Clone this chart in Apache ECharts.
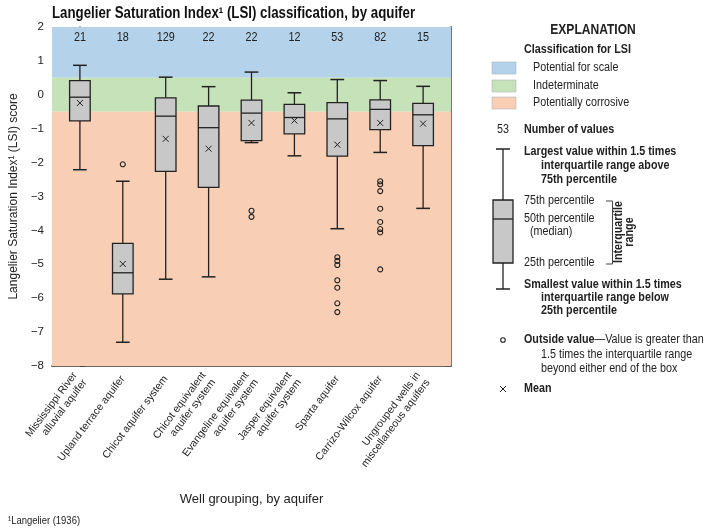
<!DOCTYPE html>
<html><head><meta charset="utf-8">
<script src="https://cdn.jsdelivr.net/npm/echarts@6/dist/echarts.min.js"></script>
<style>html,body{margin:0;padding:0;background:#fff}#c{width:711px;height:529px}</style>
</head><body><div id="c"></div>
<script>
const categories = ['Mississippi River\nalluvial aquifer','Upland terrace aquifer','Chicot aquifer system','Chicot equivalent\naquifer system','Evangeline equivalent\naquifer system','Jasper equivalent\naquifer system','Sparta aquifer','Carrizo-Wilcox aquifer','Ungrouped wells in\nmiscellaneous aquifers'];
const counts = [21,18,129,22,22,12,53,82,15];
const whiskerLow = [-2.21,-7.30,-5.44,-5.37,-1.41,-1.80,-3.95,-1.70,-3.35];
const q1 = [-0.77,-5.87,-2.26,-2.73,-1.35,-1.15,-1.81,-1.03,-1.50];
const median = [-0.07,-5.25,-0.63,-0.97,-0.54,-0.67,-0.71,-0.43,-0.59];
const q3 = [0.42,-4.38,-0.09,-0.33,-0.16,-0.28,-0.23,-0.15,-0.25];
const whiskerHigh = [0.87,-2.55,0.52,0.24,0.67,0.06,0.45,0.42,0.25];
const means = [-0.24,-4.99,-1.30,-1.59,-0.83,-0.76,-1.47,-0.83,-0.85];
const outliers = [[],[-2.05],[],[],[-3.42,-3.60],[],[-4.79,-4.90,-5.02,-5.47,-5.69,-6.15,-6.41],[-2.55,-2.64,-2.84,-3.36,-3.75,-3.96,-4.06,-5.15],[]];

const FONT = "'Liberation Sans',Arial,sans-serif";
const boxData = categories.map((c,i)=>[i, whiskerLow[i], q1[i], median[i], q3[i], whiskerHigh[i], means[i]]);
const countData = counts.map((n,i)=>[i, n]);
const outlierData = [];
outliers.forEach((arr,i)=>arr.forEach(v=>outlierData.push([i, v])));

const chart = echarts.init(document.getElementById('c'), null, {renderer:'canvas'});
const dark = '#222';
const SX = 0.86;
function txt(x,y,text,opt,sx){ return {type:'text', x:x, y:y, scaleX:(sx||SX), style:Object.assign({text:text, fill:'#222', font:'12.5px '+FONT, textVerticalAlign:'middle'}, opt||{})}; }
const B = 'bold 12.5px '+FONT, N = '12.5px '+FONT;
const graphic = [
  txt(52,14,'Langelier Saturation Index¹ (LSI) classification, by aquifer',{font:'bold 16px '+FONT, fill:'#111'},0.83),
  {type:'text', x:593, y:30, scaleX:0.86, style:{text:'EXPLANATION', font:'bold 14px '+FONT, fill:'#222', textAlign:'center', textVerticalAlign:'middle'}},
  txt(524,50,'Classification for LSI',{font:B}),
  {type:'rect', shape:{x:492,y:62,width:24,height:12}, style:{fill:'#b4d2ea', stroke:'#aab', lineWidth:0.5}},
  {type:'rect', shape:{x:492,y:80,width:24,height:12}, style:{fill:'#c6e2b8', stroke:'#aab', lineWidth:0.5}},
  {type:'rect', shape:{x:492,y:97,width:24,height:12}, style:{fill:'#f8cfb5', stroke:'#aab', lineWidth:0.5}},
  txt(533,68,'Potential for scale',{font:N}),
  txt(533,86,'Indeterminate',{font:N}),
  txt(533,103,'Potentially corrosive',{font:N}),
  {type:'text', x:503, y:130, scaleX:SX, style:{text:'53', font:N, fill:'#222', textAlign:'center', textVerticalAlign:'middle'}},
  txt(524,130,'Number of values',{font:B}),
  {type:'line', shape:{x1:503,y1:149,x2:503,y2:289}, style:{stroke:dark, lineWidth:1.3}},
  {type:'line', shape:{x1:496,y1:149,x2:510,y2:149}, style:{stroke:dark, lineWidth:1.5}},
  {type:'line', shape:{x1:496,y1:289,x2:510,y2:289}, style:{stroke:dark, lineWidth:1.5}},
  {type:'rect', shape:{x:493,y:200,width:20,height:63}, style:{fill:'#c8c8c8', stroke:dark, lineWidth:1.3}},
  {type:'line', shape:{x1:493,y1:219,x2:513,y2:219}, style:{stroke:dark, lineWidth:1.3}},
  txt(524,152,'Largest value within 1.5 times',{font:B}),
  txt(541,166,'interquartile range above',{font:B}),
  txt(541,180,'75th percentile',{font:B}),
  txt(524,201,'75th percentile',{font:N}),
  txt(524,219,'50th percentile',{font:N}),
  txt(530,232,'(median)',{font:N}),
  txt(524,263,'25th percentile',{font:N}),
  {type:'polyline', shape:{points:[[606,201],[612.5,201],[612.5,264],[606,264]]}, style:{stroke:'#444', lineWidth:1, fill:null}},
  {type:'text', x:624, y:232, rotation:Math.PI/2, scaleX:SX, style:{text:'Interquartile\nrange', font:'bold 12.5px '+FONT, fill:'#222', textAlign:'center', textVerticalAlign:'middle', lineHeight:11}},
  txt(524,285,'Smallest value within 1.5 times',{font:B}),
  txt(541,298,'interquartile range below',{font:B}),
  txt(541,311,'25th percentile',{font:B}),
  {type:'circle', shape:{cx:503,cy:340,r:2.3}, style:{fill:'none', stroke:dark, lineWidth:1.1}},
  {type:'text', x:524, y:340, scaleX:SX, style:{text:'{b|Outside value}—Value is greater than', font:N, fill:'#222', textVerticalAlign:'middle', rich:{b:{font:B, fill:'#222'}}}},
  txt(541,355,'1.5 times the interquartile range',{font:N}),
  txt(541,369,'beyond either end of the box',{font:N}),
  {type:'polyline', shape:{points:[[500,386],[506,392]]}, style:{stroke:dark, lineWidth:1}},
  {type:'polyline', shape:{points:[[506,386],[500,392]]}, style:{stroke:dark, lineWidth:1}},
  txt(524,389,'Mean',{font:B}),
  txt(8,521,'¹Langelier (1936)',{font:'11px '+FONT})
];

const option = {
  animation:false,
  grid:{left:51, right:260, top:27, bottom:163, containLabel:false},
  xAxis:{type:'value', min:-0.65, max:8.65, splitLine:{show:false},
    name:'Well grouping, by aquifer', nameLocation:'middle', nameGap:127, nameTextStyle:{fontFamily:FONT, fontSize:13, color:'#222'},
    axisLine:{show:true, onZero:false, lineStyle:{color:'#666', width:2}}, axisTick:{show:false},
    axisLabel:{customValues:[0,1,2,3,4,5,6,7,8], formatter:v=>categories[Math.round(v)], rotate:53, margin:11, fontFamily:FONT, fontSize:10.5, color:'#222', lineHeight:12, align:'right', verticalAlign:'middle'}},
  yAxis:[{type:'value', min:-8, max:2, interval:1, splitLine:{show:false},
    name:'Langelier Saturation Index¹ (LSI) score', nameLocation:'middle', nameGap:29, nameTextStyle:{fontFamily:FONT, fontSize:12, color:'#222'},
    axisLine:{show:true, lineStyle:{color:'#444', width:1.5}},
    axisTick:{show:true, inside:true, length:5, lineStyle:{color:'#444'}},
    minorTick:{show:true, splitNumber:2, length:5, lineStyle:{color:'#444'}},
    axisLabel:{margin:8, fontFamily:FONT, fontSize:11.5, color:'#222', formatter:v=>String(v).replace('-','\u2212')}},
   {type:'value', position:'right', min:-8, max:2, interval:1, splitLine:{show:false},
    axisLine:{show:true, lineStyle:{color:'#777', width:2}},
    axisTick:{show:true, inside:true, length:5, lineStyle:{color:'#555'}},
    minorTick:{show:true, splitNumber:2, length:5, lineStyle:{color:'#555'}},
    axisLabel:{show:false}}],
  series:[
    {type:'line', data:[], z:0, silent:true, markArea:{silent:true, itemStyle:{opacity:1}, data:[
      [{yAxis:0.5, itemStyle:{color:'#b4d2ea'}},{yAxis:2}],
      [{yAxis:-0.5, itemStyle:{color:'#c6e2b8'}},{yAxis:0.5}],
      [{yAxis:-8, itemStyle:{color:'#f8cfb5'}},{yAxis:-0.5}]]}},
    {type:'custom', z:3, data:boxData, clip:false,
      renderItem:function(params, api){
        const i = api.value(0);
        const lo = api.coord([i, api.value(1)]), a = api.coord([i, api.value(2)]), m = api.coord([i, api.value(3)]);
        const b = api.coord([i, api.value(4)]), hi = api.coord([i, api.value(5)]), mn = api.coord([i, api.value(6)]);
        const bw = api.size([0.48,0])[0], cw = api.size([0.32,0])[0];
        const x = a[0];
        const ls = {stroke:dark, lineWidth:1.3};
        const s = 3;
        return {type:'group', children:[
          {type:'line', shape:{x1:x,y1:lo[1],x2:x,y2:a[1]}, style:ls},
          {type:'line', shape:{x1:x,y1:b[1],x2:x,y2:hi[1]}, style:ls},
          {type:'line', shape:{x1:x-cw/2,y1:lo[1],x2:x+cw/2,y2:lo[1]}, style:{stroke:dark, lineWidth:1.5}},
          {type:'line', shape:{x1:x-cw/2,y1:hi[1],x2:x+cw/2,y2:hi[1]}, style:{stroke:dark, lineWidth:1.5}},
          {type:'rect', shape:{x:x-bw/2, y:b[1], width:bw, height:a[1]-b[1]}, style:{fill:'#c8c8c8', stroke:dark, lineWidth:1.3}},
          {type:'line', shape:{x1:x-bw/2,y1:m[1],x2:x+bw/2,y2:m[1]}, style:{stroke:dark, lineWidth:1.3}},
          {type:'line', shape:{x1:x-s,y1:mn[1]-s,x2:x+s,y2:mn[1]+s}, style:{stroke:dark, lineWidth:1}},
          {type:'line', shape:{x1:x-s,y1:mn[1]+s,x2:x+s,y2:mn[1]-s}, style:{stroke:dark, lineWidth:1}}
        ]};
      }},
    {type:'custom', z:3, data:countData,
      renderItem:function(params, api){
        const p = api.coord([api.value(0), 1.68]);
        return {type:'text', x:p[0], y:p[1], scaleX:0.9, style:{text:String(api.value(1)), font:'12px '+FONT, fill:'#222', textAlign:'center', textVerticalAlign:'middle'}};
      }},
    {type:'scatter', z:4, data:outlierData, symbol:'circle', symbolSize:5, silent:true,
      itemStyle:{color:'rgba(0,0,0,0)', borderColor:dark, borderWidth:1.1, opacity:1}}
  ],
  graphic:graphic
};
chart.setOption(option);
</script></body></html>
